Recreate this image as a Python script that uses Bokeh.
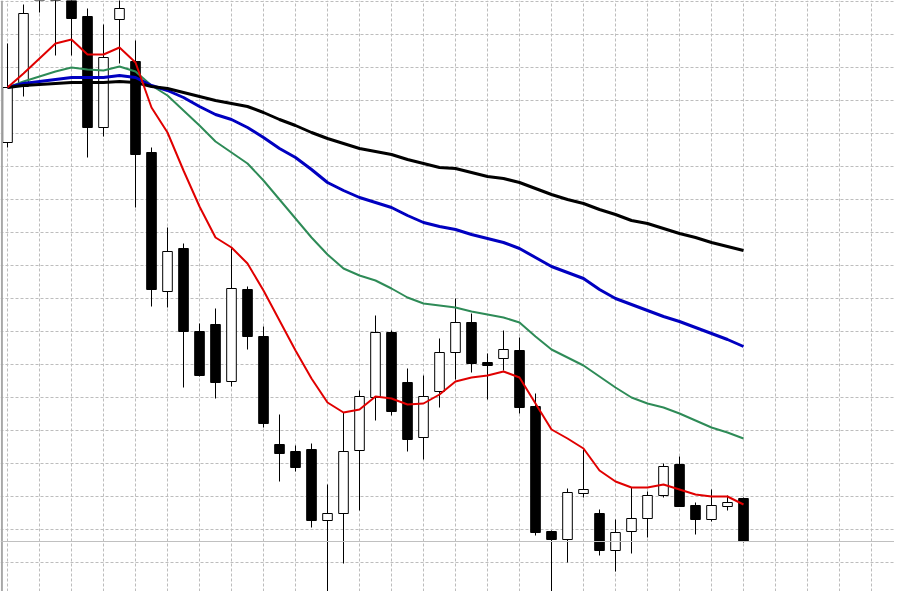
from bokeh.plotting import figure
from bokeh.models import Range1d, FixedTicker, Span, ColumnDataSource
from bokeh.embed import file_html
from bokeh.resources import INLINE

# ---- data (price series) ----
opens = [1.30858, 1.30914, 1.31008, 1.31030, 1.31012, 1.30984, 1.30873, 1.30981, 1.30939, 1.30848,
         1.30709, 1.30752, 1.30669, 1.30676, 1.30619, 1.30711, 1.30664, 1.30556, 1.30549, 1.30551,
         1.30480, 1.30487, 1.30550, 1.30603, 1.30668, 1.30618, 1.30563, 1.30609, 1.30648, 1.30678,
         1.30638, 1.30642, 1.30650, 1.30594, 1.30469, 1.30461, 1.30507, 1.30487, 1.30450, 1.30469,
         1.30482, 1.30505, 1.30536, 1.30495, 1.30481, 1.30494, 1.30502]
highs = [1.30957, 1.30996, 1.31040, 1.31045, 1.31020, 1.30992, 1.30976, 1.31005, 1.30960, 1.30853,
         1.30773, 1.30757, 1.30677, 1.30692, 1.30753, 1.30714, 1.30674, 1.30586, 1.30555, 1.30557,
         1.30516, 1.30588, 1.30610, 1.30685, 1.30670, 1.30632, 1.30625, 1.30662, 1.30702, 1.30687,
         1.30647, 1.30670, 1.30663, 1.30607, 1.30470, 1.30512, 1.30551, 1.30491, 1.30481, 1.30513,
         1.30509, 1.30537, 1.30544, 1.30498, 1.30511, 1.30505, 1.30503]
lows = [1.30853, 1.30904, 1.30988, 1.30945, 1.30945, 1.30843, 1.30864, 1.30937, 1.30793, 1.30694,
        1.30693, 1.30613, 1.30624, 1.30602, 1.30614, 1.30651, 1.30573, 1.30519, 1.30529, 1.30473,
        1.30380, 1.30437, 1.30490, 1.30580, 1.30585, 1.30549, 1.30541, 1.30593, 1.30621, 1.30628,
        1.30601, 1.30630, 1.30587, 1.30465, 1.30380, 1.30438, 1.30503, 1.30445, 1.30429, 1.30447,
        1.30463, 1.30503, 1.30494, 1.30466, 1.30479, 1.30490, 1.30458]
closes = [1.30913, 1.30987, 1.31028, 1.31012, 1.30982, 1.30873, 1.30943, 1.30992, 1.30846, 1.30711,
          1.30749, 1.30669, 1.30625, 1.30618, 1.30712, 1.30664, 1.30577, 1.30547, 1.30533, 1.30480,
          1.30487, 1.30549, 1.30604, 1.30668, 1.30589, 1.30561, 1.30604, 1.30648, 1.30678, 1.30637,
          1.30635, 1.30651, 1.30593, 1.30468, 1.30461, 1.30508, 1.30511, 1.30450, 1.30468, 1.30482,
          1.30505, 1.30534, 1.30494, 1.30481, 1.30495, 1.30498, 1.30459]

ma_red = [1.30913, 1.30927, 1.30942, 1.30957, 1.30961, 1.30946, 1.30946, 1.30953, 1.30938, 1.30893,
          1.30868, 1.30830, 1.30794, 1.30763, 1.30753, 1.30737, 1.30710, 1.30680, 1.30650, 1.30622,
          1.30598, 1.30588, 1.30591, 1.30604, 1.30602, 1.30596, 1.30597, 1.30606, 1.30619, 1.30623,
          1.30625, 1.30629, 1.30623, 1.30597, 1.30571, 1.30562, 1.30552, 1.30530, 1.30519, 1.30513,
          1.30513, 1.30516, 1.30511, 1.30506, 1.30504, 1.30504, 1.30496]
ma_green = [1.30913, 1.30919, 1.30924, 1.30929, 1.30933, 1.30931, 1.30930, 1.30934, 1.30929, 1.30915,
            1.30905, 1.30890, 1.30875, 1.30859, 1.30848, 1.30837, 1.30820, 1.30801, 1.30782, 1.30763,
            1.30746, 1.30732, 1.30725, 1.30720, 1.30712, 1.30703, 1.30697, 1.30695, 1.30693, 1.30689,
            1.30686, 1.30683, 1.30678, 1.30664, 1.30651, 1.30643, 1.30635, 1.30624, 1.30613, 1.30603,
            1.30597, 1.30593, 1.30587, 1.30580, 1.30573, 1.30568, 1.30562]
ma_blue = [1.30913, 1.30917, 1.30919, 1.30921, 1.30923, 1.30923, 1.30923, 1.30925, 1.30923, 1.30915,
           1.30910, 1.30903, 1.30894, 1.30886, 1.30881, 1.30873, 1.30863, 1.30852, 1.30843, 1.30831,
           1.30818, 1.30810, 1.30803, 1.30798, 1.30793, 1.30785, 1.30778, 1.30774, 1.30771, 1.30766,
           1.30762, 1.30758, 1.30752, 1.30743, 1.30734, 1.30728, 1.30722, 1.30711, 1.30702, 1.30696,
           1.30690, 1.30684, 1.30679, 1.30673, 1.30667, 1.30661, 1.30654]
ma_black = [1.30913, 1.30915, 1.30916, 1.30917, 1.30918, 1.30918, 1.30918, 1.30919, 1.30918, 1.30914,
            1.30912, 1.30908, 1.30904, 1.30900, 1.30897, 1.30894, 1.30888, 1.30881, 1.30875, 1.30868,
            1.30862, 1.30857, 1.30852, 1.30849, 1.30846, 1.30841, 1.30837, 1.30833, 1.30832, 1.30828,
            1.30824, 1.30822, 1.30818, 1.30812, 1.30806, 1.30801, 1.30797, 1.30791, 1.30786, 1.30780,
            1.30777, 1.30772, 1.30767, 1.30763, 1.30758, 1.30754, 1.30750]

price_grid = [1.30999, 1.30966, 1.30933, 1.30900, 1.30867, 1.30834, 1.30801, 1.30768, 1.30735,
              1.30702, 1.30669, 1.30636, 1.30603, 1.30570, 1.30537, 1.30504, 1.30471, 1.30438, 1.30405]
bar_grid = list(range(0, 58, 2))

# ---- build ----
idx = list(range(len(opens)))
bull = [c >= o for o, c in zip(opens, closes)]
src = ColumnDataSource(dict(
    x=idx,
    high=highs, low=lows,
    top=[max(o, c) for o, c in zip(opens, closes)],
    bottom=[min(o, c) for o, c in zip(opens, closes)],
    fill=["white" if b else "black" for b in bull],
))

p = figure(width=894, height=591, output_backend="svg", toolbar_location=None,
           x_range=Range1d(-0.4375, 55.4375), y_range=Range1d(1.30409, 1.31000),
           min_border=0, background_fill_color="white", border_fill_color="white")
p.outline_line_color = None
p.xaxis.visible = False
p.yaxis.visible = False
p.xgrid.ticker = FixedTicker(ticks=bar_grid)
p.ygrid.ticker = FixedTicker(ticks=price_grid)
for g in (p.xgrid, p.ygrid):
    g.grid_line_color = "#bdbdbd"
    g.grid_line_dash = "3 2"
    g.grid_line_width = 1

# left chart border and current-price line
p.add_layout(Span(location=-0.35, dimension="height", line_color="#a8a8a8", line_width=2))
p.add_layout(Span(location=closes[-1], dimension="width", line_color="#c0c0c0", line_width=1))

p.segment(x0="x", y0="low", x1="x", y1="high", source=src, line_color="black", line_width=1)
p.vbar(x="x", width=0.6, top="top", bottom="bottom", source=src,
       fill_color="fill", line_color="black", line_width=1)

p.line(idx, ma_green, line_color="#2e8b57", line_width=2)
p.line(idx, ma_blue, line_color="#0000c0", line_width=3)
p.line(idx, ma_black, line_color="black", line_width=3)
p.line(idx, ma_red, line_color="#e00000", line_width=2)

open("out.html", "w").write(file_html(p, INLINE))
